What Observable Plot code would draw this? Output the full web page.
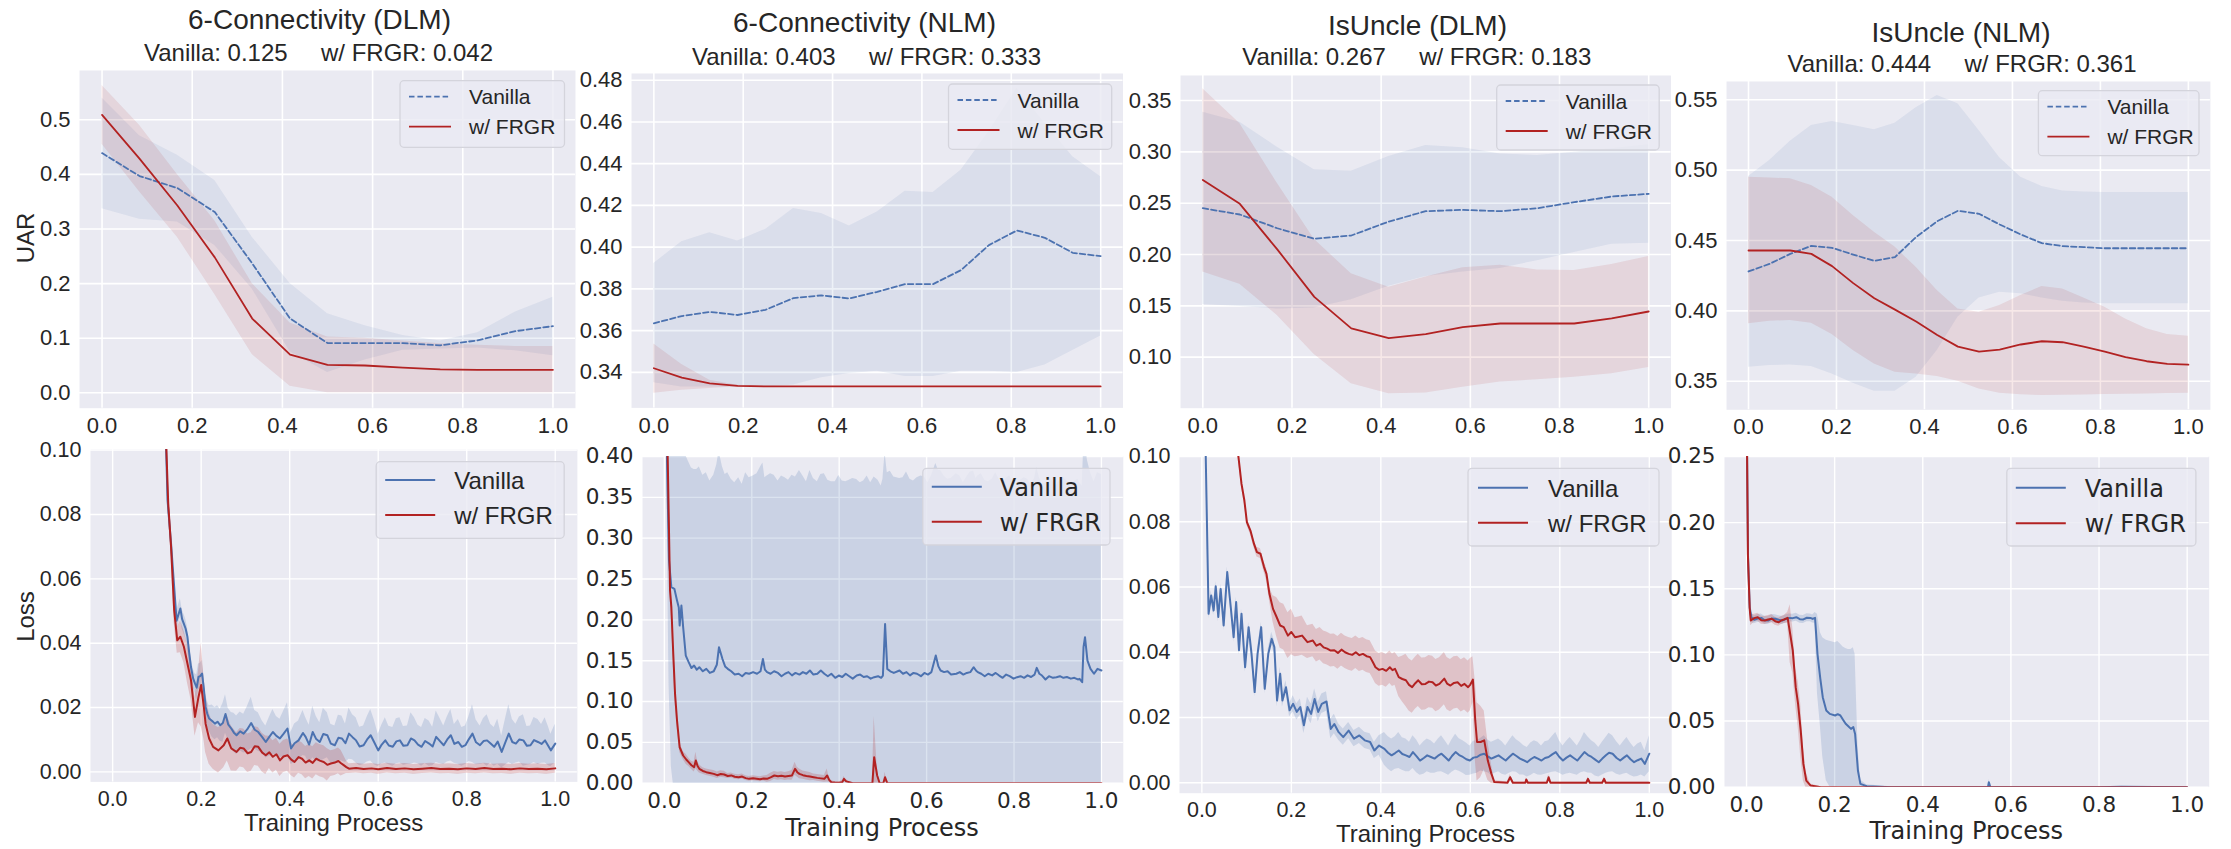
<!DOCTYPE html>
<html><head><meta charset="utf-8">
<script src="https://cdn.jsdelivr.net/npm/d3@7"></script>
<script src="https://cdn.jsdelivr.net/npm/@observablehq/plot@0.6"></script>
<style>
html,body{margin:0;padding:0;background:#fff;}
#root{position:relative;width:2231px;height:849px;overflow:hidden;background:#fff;}
#overlay{position:absolute;left:0;top:0;}
#overlay text{white-space:pre;}
</style></head><body><div id="root"></div>
<script>
// ---------------- text ----------------
const titles = ["6-Connectivity (DLM)", "6-Connectivity (NLM)", "IsUncle (DLM)", "IsUncle (NLM)"];
const subtitles = ["Vanilla: 0.125     w/ FRGR: 0.042", "Vanilla: 0.403     w/ FRGR: 0.333",
                   "Vanilla: 0.267     w/ FRGR: 0.183", "Vanilla: 0.444     w/ FRGR: 0.361"];
const seriesNames = ["Vanilla", "w/ FRGR"];
const xTicks = [0, 0.2, 0.4, 0.6, 0.8, 1.0];

// ---------------- top row: UAR ----------------
// 6-Connectivity (DLM)
const c6dX = [0, 0.083, 0.167, 0.25, 0.333, 0.417, 0.5, 0.583, 0.667, 0.75, 0.833, 0.917, 1];
const c6dVan   = [0.439, 0.397, 0.375, 0.331, 0.237, 0.136, 0.091, 0.091, 0.091, 0.087, 0.096, 0.113, 0.122];
const c6dVanLo = [0.337, 0.318, 0.313, 0.270, 0.190, 0.075, 0.037, 0.060, 0.078, 0.080, 0.082, 0.077, 0.068];
const c6dVanHi = [0.540, 0.471, 0.435, 0.389, 0.285, 0.200, 0.145, 0.123, 0.105, 0.095, 0.110, 0.148, 0.175];
const c6dFr    = [0.509, 0.429, 0.343, 0.248, 0.136, 0.070, 0.051, 0.050, 0.046, 0.043, 0.042, 0.042, 0.042];
const c6dFrLo  = [0.455, 0.368, 0.285, 0.180, 0.070, 0.012, 0.000, 0.000, 0.000, 0.000, 0.000, 0.000, 0.000];
const c6dFrHi  = [0.563, 0.490, 0.400, 0.315, 0.200, 0.128, 0.102, 0.100, 0.095, 0.090, 0.087, 0.085, 0.085];
const c6dYTicks = [0, 0.1, 0.2, 0.3, 0.4, 0.5];

// 6-Connectivity (NLM)
const c6nX = [0, 0.0625, 0.125, 0.1875, 0.25, 0.3125, 0.375, 0.4375, 0.5, 0.5625, 0.625, 0.6875, 0.75, 0.8125, 0.875, 0.9375, 1];
const c6nVan   = [0.3635, 0.367, 0.369, 0.3675, 0.370, 0.3756, 0.3769, 0.3754, 0.3786, 0.3823, 0.3823, 0.389, 0.401, 0.408, 0.4045, 0.3973, 0.3957];
const c6nVanLo = [0.3350, 0.3330, 0.3330, 0.3330, 0.3330, 0.3340, 0.3375, 0.3395, 0.3405, 0.3380, 0.3380, 0.3405, 0.3405, 0.3400, 0.3435, 0.3505, 0.3575];
const c6nVanHi = [0.3922, 0.4026, 0.4069, 0.4029, 0.4085, 0.4185, 0.4161, 0.4101, 0.4169, 0.4268, 0.4262, 0.4369, 0.4553, 0.4760, 0.4592, 0.4433, 0.4337];
const c6nFr    = [0.3420, 0.3375, 0.3347, 0.3335, 0.3333, 0.3333, 0.3333, 0.3333, 0.3333, 0.3333, 0.3333, 0.3333, 0.3333, 0.3333, 0.3333, 0.3333, 0.3333];
const c6nFrLo  = [0.3300, 0.3315, 0.3323, 0.3331, 0.3333, 0.3333, 0.3333, 0.3333, 0.3333, 0.3333, 0.3333, 0.3333, 0.3333, 0.3333, 0.3333, 0.3333, 0.3333];
const c6nFrHi  = [0.3536, 0.3438, 0.3363, 0.3339, 0.3333, 0.3333, 0.3333, 0.3333, 0.3333, 0.3333, 0.3333, 0.3333, 0.3333, 0.3333, 0.3333, 0.3333, 0.3333];
const c6nYTicks = [0.34, 0.36, 0.38, 0.40, 0.42, 0.44, 0.46, 0.48];

// IsUncle (DLM)
const iudX = [0, 0.083, 0.167, 0.25, 0.333, 0.417, 0.5, 0.583, 0.667, 0.75, 0.833, 0.917, 1];
const iudVan   = [0.2451, 0.2390, 0.2256, 0.2153, 0.2185, 0.2321, 0.2422, 0.2435, 0.2422, 0.2451, 0.2510, 0.2565, 0.2591];
const iudVanLo = [0.1513, 0.1494, 0.1470, 0.1480, 0.1560, 0.1690, 0.1785, 0.1830, 0.1865, 0.1940, 0.2020, 0.2100, 0.2110];
const iudVanHi = [0.3386, 0.3289, 0.3045, 0.2825, 0.2812, 0.2955, 0.3062, 0.3039, 0.2980, 0.2964, 0.2997, 0.3030, 0.3070];
const iudFr    = [0.2727, 0.2494, 0.2050, 0.1587, 0.1280, 0.1185, 0.1224, 0.1292, 0.1328, 0.1328, 0.1328, 0.1377, 0.1445];
const iudFrLo  = [0.1830, 0.1710, 0.1406, 0.1026, 0.0740, 0.0643, 0.0650, 0.0708, 0.0757, 0.0780, 0.0805, 0.0838, 0.0900];
const iudFrHi  = [0.3614, 0.3276, 0.2694, 0.2148, 0.1812, 0.1682, 0.1780, 0.1870, 0.1896, 0.1850, 0.1845, 0.1903, 0.1981];
const iudYTicks = [0.10, 0.15, 0.20, 0.25, 0.30, 0.35];

// IsUncle (NLM)
const iunX = [0, 0.048, 0.095, 0.143, 0.190, 0.238, 0.286, 0.333, 0.381, 0.429, 0.476, 0.524, 0.571, 0.619, 0.667, 0.714, 0.762, 0.810, 0.857, 0.905, 0.952, 1];
const iunVan   = [0.4280, 0.4334, 0.4405, 0.4462, 0.4448, 0.4400, 0.4355, 0.4382, 0.4524, 0.4637, 0.4711, 0.4690, 0.4614, 0.4543, 0.4481, 0.4460, 0.4453, 0.4445, 0.4445, 0.4445, 0.4445, 0.4445];
const iunVanLo = [0.3600, 0.3611, 0.3616, 0.3604, 0.3552, 0.3486, 0.3429, 0.3429, 0.3528, 0.3718, 0.3955, 0.4092, 0.4133, 0.4121, 0.4092, 0.4069, 0.4055, 0.4050, 0.4050, 0.4050, 0.4050, 0.4050];
const iunVanHi = [0.4955, 0.5069, 0.5206, 0.5318, 0.5346, 0.5318, 0.5287, 0.5334, 0.5443, 0.5531, 0.5472, 0.5282, 0.5088, 0.4950, 0.4884, 0.4851, 0.4844, 0.4841, 0.4841, 0.4841, 0.4841, 0.4841];
const iunFr    = [0.4429, 0.4429, 0.4429, 0.4405, 0.4318, 0.4197, 0.4090, 0.4009, 0.3924, 0.3829, 0.3746, 0.3711, 0.3725, 0.3761, 0.3784, 0.3777, 0.3746, 0.3711, 0.3671, 0.3642, 0.3623, 0.3618];
const iunFrLo  = [0.3908, 0.3927, 0.3931, 0.3912, 0.3832, 0.3718, 0.3623, 0.3564, 0.3552, 0.3533, 0.3500, 0.3445, 0.3415, 0.3403, 0.3398, 0.3400, 0.3402, 0.3405, 0.3408, 0.3410, 0.3413, 0.3415];
const iunFrHi  = [0.4950, 0.4945, 0.4938, 0.4891, 0.4808, 0.4678, 0.4559, 0.4453, 0.4310, 0.4145, 0.4014, 0.3991, 0.4038, 0.4109, 0.4173, 0.4156, 0.4092, 0.4026, 0.3943, 0.3872, 0.3832, 0.3820];
const iunYTicks = [0.35, 0.40, 0.45, 0.50, 0.55];

// ---------------- bottom row: Loss, records [x, mean, sd] ----------------
const lossYTicks01 = [0, 0.02, 0.04, 0.06, 0.08, 0.10];
const lossYTicks04 = [0, 0.05, 0.10, 0.15, 0.20, 0.25, 0.30, 0.35, 0.40];
const lossYTicks025 = [0, 0.05, 0.10, 0.15, 0.20, 0.25];

const c6dLossVan = [[0.119,0.110,0.001],[0.124,0.0845,0.002],[0.132,0.071,0.002],[0.139,0.0575,0.003],[0.1445,0.047,0.003],[0.149,0.049,0.003],[0.153,0.0508,0.003],[0.157,0.0475,0.003],[0.161,0.046,0.003],[0.165,0.0445,0.003],[0.169,0.042,0.003],[0.173,0.037,0.003],[0.177,0.0326,0.003],[0.182,0.029,0.003],[0.186,0.0275,0.003],[0.19,0.0262,0.004],[0.194,0.0295,0.004],[0.198,0.0298,0.004],[0.202,0.0306,0.004],[0.206,0.026,0.004],[0.21,0.0202,0.004],[0.214,0.018,0.004],[0.218,0.0166,0.004],[0.225,0.0158,0.005],[0.231,0.015,0.005],[0.237,0.0156,0.005],[0.243,0.0145,0.005],[0.249,0.0152,0.006],[0.255,0.018,0.006],[0.261,0.0148,0.005],[0.268,0.0135,0.005],[0.274,0.0122,0.006],[0.28,0.0114,0.006],[0.288,0.0126,0.006],[0.296,0.0119,0.006],[0.304,0.0132,0.007],[0.313,0.0152,0.008],[0.321,0.0131,0.006],[0.329,0.0124,0.006],[0.338,0.0108,0.005],[0.346,0.0093,0.005],[0.354,0.0109,0.006],[0.362,0.0124,0.007],[0.37,0.0112,0.006],[0.378,0.0104,0.006],[0.386,0.0118,0.007],[0.395,0.0135,0.008],[0.403,0.0073,0.005],[0.411,0.0089,0.006],[0.42,0.0098,0.006],[0.43,0.0121,0.007],[0.436,0.0109,0.006],[0.444,0.0085,0.006],[0.452,0.0124,0.008],[0.46,0.0102,0.007],[0.468,0.0093,0.006],[0.476,0.0118,0.008],[0.485,0.0114,0.007],[0.493,0.0088,0.006],[0.502,0.0083,0.006],[0.51,0.0106,0.007],[0.518,0.0104,0.007],[0.526,0.0089,0.006],[0.534,0.0119,0.008],[0.542,0.0108,0.007],[0.55,0.0098,0.007],[0.558,0.0079,0.006],[0.567,0.0083,0.006],[0.575,0.0101,0.007],[0.583,0.0114,0.008],[0.591,0.0092,0.007],[0.6,0.0067,0.005],[0.608,0.0085,0.006],[0.616,0.0098,0.007],[0.624,0.0082,0.006],[0.633,0.0078,0.006],[0.641,0.0095,0.007],[0.649,0.0098,0.007],[0.657,0.0081,0.006],[0.666,0.0083,0.006],[0.674,0.0104,0.008],[0.682,0.0098,0.007],[0.69,0.0085,0.006],[0.698,0.0078,0.006],[0.706,0.0096,0.007],[0.715,0.0088,0.007],[0.723,0.0079,0.006],[0.731,0.0109,0.008],[0.74,0.0095,0.007],[0.748,0.0083,0.006],[0.756,0.0101,0.007],[0.764,0.0114,0.008],[0.772,0.0087,0.006],[0.781,0.0093,0.007],[0.789,0.0078,0.006],[0.797,0.0083,0.006],[0.805,0.0102,0.007],[0.813,0.0119,0.009],[0.821,0.0092,0.007],[0.83,0.0083,0.006],[0.838,0.0096,0.007],[0.846,0.0098,0.008],[0.854,0.0088,0.006],[0.862,0.0078,0.006],[0.87,0.0094,0.007],[0.879,0.0062,0.005],[0.887,0.0091,0.007],[0.895,0.0119,0.009],[0.903,0.0093,0.007],[0.911,0.0088,0.006],[0.919,0.0101,0.007],[0.928,0.0098,0.008],[0.936,0.0081,0.006],[0.944,0.0083,0.006],[0.952,0.0099,0.007],[0.961,0.0093,0.007],[0.969,0.0087,0.006],[0.977,0.0098,0.007],[0.985,0.0079,0.006],[0.99,0.0067,0.005],[1.0,0.0088,0.006]];

const c6dLossFr = [[0.119,0.110,0.002],[0.1256,0.0834,0.003],[0.132,0.070,0.003],[0.139,0.0503,0.004],[0.146,0.0409,0.004],[0.153,0.042,0.005],[0.161,0.0389,0.005],[0.169,0.0337,0.006],[0.177,0.0285,0.006],[0.186,0.0171,0.006],[0.194,0.0233,0.008],[0.2,0.027,0.013],[0.206,0.0202,0.010],[0.21,0.015,0.009],[0.218,0.0104,0.008],[0.227,0.0078,0.007],[0.239,0.0067,0.007],[0.251,0.0083,0.007],[0.259,0.0104,0.007],[0.268,0.0073,0.007],[0.28,0.0062,0.006],[0.288,0.0075,0.006],[0.296,0.0073,0.006],[0.305,0.0058,0.006],[0.313,0.0062,0.006],[0.321,0.0080,0.006],[0.329,0.0078,0.006],[0.338,0.0060,0.006],[0.346,0.0052,0.006],[0.354,0.0061,0.005],[0.362,0.0047,0.005],[0.37,0.0055,0.005],[0.378,0.0036,0.005],[0.386,0.0048,0.005],[0.395,0.0052,0.005],[0.403,0.0039,0.005],[0.411,0.0031,0.005],[0.42,0.0046,0.005],[0.428,0.0041,0.005],[0.436,0.0029,0.005],[0.444,0.0036,0.005],[0.452,0.0028,0.005],[0.46,0.0041,0.005],[0.468,0.0035,0.005],[0.477,0.0031,0.005],[0.485,0.0022,0.005],[0.493,0.0026,0.004],[0.502,0.0029,0.004],[0.51,0.0034,0.004],[0.516,0.0027,0.004],[0.522,0.0021,0.003],[0.528,0.0015,0.002],[0.534,0.001,0.0015],[0.55,0.0012,0.0015],[0.567,0.0009,0.0015],[0.585,0.0011,0.0015],[0.6,0.0008,0.0015],[0.62,0.0012,0.0015],[0.64,0.0009,0.0015],[0.66,0.0011,0.0015],[0.68,0.0008,0.0015],[0.7,0.001,0.0015],[0.72,0.0012,0.0015],[0.74,0.0009,0.0015],[0.76,0.001,0.0015],[0.78,0.0008,0.0015],[0.8,0.0011,0.0015],[0.82,0.0009,0.0015],[0.84,0.0012,0.0015],[0.86,0.0009,0.0015],[0.88,0.001,0.0015],[0.9,0.0008,0.0015],[0.92,0.0011,0.0015],[0.94,0.0009,0.0015],[0.96,0.001,0.0015],[0.98,0.0008,0.0015],[1.0,0.0011,0.0015]];

const c6nLossVan = [[0.004,0.45,0.01],[0.0106,0.2727,0.15],[0.016,0.24,0.22],[0.0229,0.238,0.25],[0.029,0.2237,0.25],[0.033,0.215,0.25],[0.035,0.193,0.25],[0.039,0.2176,0.25],[0.043,0.191,0.25],[0.049,0.1563,0.245],[0.0556,0.1482,0.245],[0.062,0.141,0.245],[0.068,0.144,0.24],[0.074,0.139,0.245],[0.08,0.142,0.245],[0.088,0.137,0.24],[0.096,0.14,0.24],[0.104,0.135,0.235],[0.113,0.137,0.24],[0.12,0.145,0.245],[0.125,0.1665,0.24],[0.133,0.152,0.235],[0.139,0.143,0.235],[0.145,0.14,0.24],[0.153,0.137,0.235],[0.161,0.133,0.235],[0.17,0.134,0.24],[0.178,0.131,0.235],[0.186,0.135,0.245],[0.194,0.134,0.24],[0.203,0.136,0.24],[0.212,0.134,0.245],[0.22,0.137,0.25],[0.2255,0.152,0.24],[0.23,0.139,0.235],[0.235,0.136,0.24],[0.243,0.134,0.245],[0.251,0.137,0.24],[0.26,0.135,0.235],[0.268,0.131,0.245],[0.276,0.134,0.24],[0.284,0.136,0.235],[0.292,0.132,0.245],[0.3,0.135,0.24],[0.309,0.133,0.25],[0.317,0.136,0.24],[0.325,0.134,0.235],[0.333,0.138,0.245],[0.341,0.133,0.24],[0.35,0.134,0.235],[0.358,0.138,0.24],[0.366,0.134,0.245],[0.374,0.131,0.24],[0.382,0.134,0.235],[0.391,0.129,0.24],[0.399,0.1318,0.245],[0.407,0.13,0.24],[0.415,0.134,0.235],[0.423,0.131,0.24],[0.431,0.128,0.245],[0.44,0.1318,0.24],[0.448,0.133,0.235],[0.456,0.13,0.24],[0.464,0.131,0.245],[0.472,0.128,0.24],[0.48,0.1298,0.245],[0.489,0.131,0.24],[0.496,0.129,0.235],[0.5,0.1318,0.24],[0.505,0.195,0.21],[0.51,0.14,0.24],[0.517,0.137,0.245],[0.525,0.135,0.24],[0.538,0.138,0.235],[0.546,0.134,0.24],[0.554,0.136,0.245],[0.562,0.132,0.24],[0.57,0.135,0.235],[0.578,0.134,0.24],[0.587,0.131,0.245],[0.595,0.135,0.24],[0.603,0.133,0.235],[0.611,0.136,0.24],[0.621,0.1563,0.235],[0.627,0.143,0.24],[0.632,0.138,0.245],[0.64,0.136,0.24],[0.648,0.137,0.235],[0.656,0.133,0.24],[0.668,0.134,0.245],[0.676,0.136,0.24],[0.684,0.133,0.235],[0.692,0.135,0.24],[0.7,0.136,0.245],[0.7075,0.142,0.24],[0.713,0.138,0.235],[0.717,0.136,0.24],[0.725,0.134,0.245],[0.733,0.131,0.24],[0.741,0.134,0.235],[0.75,0.132,0.24],[0.758,0.135,0.245],[0.766,0.1318,0.24],[0.774,0.129,0.235],[0.782,0.133,0.24],[0.79,0.131,0.245],[0.799,0.128,0.24],[0.807,0.1298,0.235],[0.815,0.131,0.24],[0.823,0.129,0.245],[0.831,0.132,0.24],[0.839,0.13,0.235],[0.847,0.133,0.24],[0.852,0.1412,0.245],[0.858,0.134,0.24],[0.864,0.1318,0.235],[0.872,0.127,0.24],[0.88,0.131,0.245],[0.889,0.129,0.24],[0.897,0.1298,0.235],[0.905,0.131,0.24],[0.913,0.129,0.245],[0.921,0.13,0.24],[0.93,0.128,0.235],[0.938,0.129,0.24],[0.946,0.127,0.245],[0.95,0.1278,0.24],[0.956,0.1237,0.24],[0.959,0.1665,0.24],[0.9624,0.1788,0.24],[0.968,0.15,0.245],[0.975,0.14,0.24],[0.983,0.134,0.235],[0.991,0.14,0.24],[1.0,0.138,0.24]];

const c6nLossFr = [[0.006,0.45,0.01],[0.013,0.236,0.008],[0.016,0.2155,0.012],[0.0204,0.158,0.012],[0.0245,0.109,0.01],[0.029,0.0767,0.008],[0.035,0.044,0.006],[0.043,0.0339,0.005],[0.05,0.029,0.006],[0.0556,0.0257,0.005],[0.062,0.022,0.005],[0.068,0.0196,0.006],[0.072,0.0278,0.01],[0.076,0.021,0.006],[0.08,0.0176,0.005],[0.088,0.015,0.004],[0.096,0.0135,0.004],[0.104,0.0125,0.004],[0.113,0.0114,0.004],[0.121,0.0098,0.004],[0.129,0.0112,0.004],[0.137,0.0106,0.004],[0.145,0.0088,0.003],[0.153,0.0095,0.003],[0.161,0.0079,0.003],[0.17,0.0073,0.003],[0.178,0.0081,0.003],[0.186,0.0062,0.003],[0.194,0.0053,0.003],[0.203,0.0061,0.003],[0.211,0.0055,0.003],[0.219,0.0049,0.003],[0.227,0.0058,0.003],[0.235,0.0053,0.004],[0.243,0.0072,0.005],[0.2516,0.0094,0.005],[0.26,0.0085,0.005],[0.268,0.0091,0.005],[0.276,0.0082,0.005],[0.284,0.0089,0.005],[0.292,0.0095,0.006],[0.299,0.0176,0.008],[0.304,0.0135,0.006],[0.309,0.0114,0.006],[0.317,0.0098,0.005],[0.325,0.0089,0.005],[0.333,0.0081,0.005],[0.3415,0.0073,0.004],[0.35,0.0065,0.004],[0.358,0.0059,0.004],[0.366,0.0053,0.004],[0.3725,0.0094,0.008],[0.377,0.004,0.003],[0.382,0.0012,0.002],[0.39,0.0008,0.001],[0.4,0.0006,0.001],[0.407,0.0012,0.002],[0.411,0.0053,0.003],[0.416,0.0022,0.002],[0.423,0.0012,0.001],[0.431,0,0],[0.476,0,0],[0.48,0.0318,0.05],[0.4869,0.0094,0.01],[0.4926,0,0],[0.5008,0,0],[0.505,0.0073,0.006],[0.51,0,0],[1.0,0,0]];

const iudLossVan = [[0.008,0.105,0.002],[0.015,0.0518,0.0015],[0.0208,0.0574,0.0015],[0.0263,0.0528,0.0015],[0.031,0.0602,0.0015],[0.0367,0.0508,0.0015],[0.042,0.0594,0.0015],[0.0487,0.0482,0.0015],[0.0567,0.0646,0.0015],[0.0646,0.0538,0.0015],[0.071,0.0446,0.0015],[0.0766,0.0554,0.0015],[0.083,0.0406,0.0015],[0.0886,0.0518,0.0015],[0.0966,0.0354,0.0015],[0.1045,0.0477,0.0015],[0.111,0.0395,0.0015],[0.118,0.0278,0.0015],[0.1245,0.0395,0.0015],[0.1325,0.0477,0.0015],[0.1405,0.0288,0.0015],[0.1484,0.0395,0.0015],[0.156,0.0441,0.002],[0.162,0.0416,0.002],[0.168,0.0252,0.002],[0.175,0.0334,0.002],[0.18,0.0252,0.002],[0.188,0.0293,0.002],[0.196,0.0222,0.002],[0.204,0.0242,0.0025],[0.212,0.0217,0.0025],[0.22,0.0232,0.0025],[0.228,0.0176,0.0025],[0.236,0.0232,0.003],[0.244,0.0211,0.003],[0.252,0.0257,0.003],[0.26,0.0217,0.003],[0.268,0.0242,0.003],[0.2785,0.0249,0.003],[0.288,0.0165,0.003],[0.296,0.018,0.003],[0.3057,0.0155,0.0025],[0.316,0.014,0.0025],[0.328,0.016,0.0025],[0.34,0.0135,0.0025],[0.352,0.0145,0.0025],[0.364,0.013,0.0025],[0.376,0.0125,0.0025],[0.3855,0.0099,0.0025],[0.396,0.0114,0.003],[0.408,0.0104,0.005],[0.416,0.0092,0.005],[0.424,0.0084,0.005],[0.432,0.0091,0.005],[0.44,0.0099,0.0055],[0.448,0.0088,0.005],[0.456,0.0084,0.005],[0.464,0.0079,0.0045],[0.4717,0.0094,0.005],[0.48,0.0081,0.005],[0.4876,0.0068,0.0045],[0.496,0.0076,0.005],[0.5036,0.0084,0.005],[0.512,0.0079,0.005],[0.52,0.0074,0.0045],[0.528,0.0083,0.005],[0.5355,0.0089,0.0055],[0.544,0.0078,0.005],[0.5515,0.0068,0.0045],[0.559,0.0082,0.005],[0.567,0.0094,0.0055],[0.575,0.0085,0.005],[0.5834,0.0079,0.005],[0.591,0.0072,0.005],[0.599,0.0068,0.0045],[0.607,0.0077,0.005],[0.615,0.0079,0.005],[0.623,0.0086,0.005],[0.631,0.0089,0.0055],[0.639,0.0081,0.005],[0.647,0.0074,0.005],[0.655,0.0079,0.005],[0.663,0.0084,0.005],[0.671,0.0076,0.005],[0.679,0.0068,0.0045],[0.687,0.0079,0.005],[0.695,0.0089,0.0055],[0.703,0.0082,0.005],[0.711,0.0074,0.005],[0.719,0.0069,0.0045],[0.727,0.0063,0.0045],[0.735,0.0072,0.005],[0.743,0.0079,0.005],[0.751,0.0074,0.005],[0.759,0.0068,0.0045],[0.767,0.0076,0.005],[0.775,0.0079,0.005],[0.783,0.0087,0.0055],[0.791,0.0094,0.006],[0.799,0.0079,0.005],[0.807,0.0068,0.0045],[0.815,0.0077,0.005],[0.823,0.0084,0.0055],[0.831,0.0076,0.005],[0.839,0.0068,0.0045],[0.847,0.0081,0.005],[0.855,0.0094,0.006],[0.863,0.0085,0.0055],[0.871,0.0079,0.005],[0.879,0.0071,0.005],[0.887,0.0063,0.0045],[0.895,0.0074,0.005],[0.903,0.0084,0.0055],[0.91,0.0092,0.006],[0.918,0.0089,0.0055],[0.927,0.0076,0.005],[0.935,0.0068,0.0045],[0.943,0.0077,0.005],[0.95,0.0084,0.0055],[0.958,0.0072,0.005],[0.966,0.0063,0.0045],[0.974,0.0069,0.005],[0.982,0.0074,0.005],[0.99,0.0058,0.004],[1.0,0.0089,0.0055]];

const iudLossFr = [[0.08,0.102,0.001],[0.0886,0.0916,0.001],[0.095,0.0865,0.001],[0.1006,0.0799,0.001],[0.1085,0.0773,0.0012],[0.1165,0.0732,0.0012],[0.123,0.0707,0.0015],[0.131,0.0702,0.0015],[0.139,0.0661,0.0015],[0.1444,0.064,0.002],[0.151,0.0579,0.002],[0.159,0.0533,0.004],[0.167,0.0508,0.006],[0.175,0.0482,0.007],[0.183,0.0477,0.007],[0.1923,0.0451,0.007],[0.2,0.0462,0.007],[0.2083,0.0446,0.006],[0.216,0.0448,0.006],[0.224,0.0451,0.006],[0.236,0.0431,0.005],[0.248,0.0436,0.005],[0.256,0.042,0.005],[0.264,0.0426,0.005],[0.272,0.0415,0.005],[0.28,0.0411,0.005],[0.288,0.0405,0.005],[0.296,0.0406,0.005],[0.304,0.0398,0.005],[0.312,0.0408,0.005],[0.32,0.04,0.005],[0.328,0.0395,0.005],[0.336,0.0392,0.005],[0.344,0.04,0.005],[0.352,0.0391,0.005],[0.36,0.0395,0.005],[0.368,0.0388,0.005],[0.376,0.0385,0.005],[0.382,0.037,0.005],[0.388,0.0354,0.005],[0.396,0.0346,0.005],[0.4038,0.0349,0.005],[0.412,0.0343,0.005],[0.42,0.0354,0.005],[0.426,0.0345,0.005],[0.4317,0.0349,0.005],[0.44,0.0324,0.006],[0.448,0.0318,0.007],[0.456,0.0314,0.008],[0.463,0.030,0.008],[0.47,0.0293,0.008],[0.477,0.0305,0.008],[0.4836,0.0314,0.008],[0.4916,0.0302,0.008],[0.4996,0.0303,0.008],[0.5076,0.031,0.008],[0.5156,0.0308,0.008],[0.523,0.0298,0.008],[0.531,0.0303,0.008],[0.5419,0.0319,0.008],[0.548,0.0304,0.008],[0.5555,0.0298,0.008],[0.5635,0.0306,0.008],[0.5715,0.0308,0.008],[0.5795,0.0297,0.008],[0.587,0.0303,0.008],[0.595,0.0293,0.008],[0.6,0.0301,0.008],[0.6057,0.0316,0.007],[0.611,0.0191,0.012],[0.615,0.0125,0.012],[0.623,0.0125,0.011],[0.631,0.013,0.009],[0.639,0.0068,0.006],[0.647,0.0028,0.003],[0.6536,0.0002,0.0005],[0.683,0,0.0002],[0.689,0.0017,0.0008],[0.695,0,0.0002],[0.723,0,0.0002],[0.725,0.001,0.0005],[0.7287,0,0.0002],[0.771,0,0.0002],[0.775,0.0017,0.0008],[0.779,0,0.0002],[0.859,0,0.0002],[0.863,0.0012,0.0006],[0.867,0,0.0002],[0.8946,0,0.0002],[0.899,0.0012,0.0006],[0.9026,0,0.0002],[1.0,0,0.0002]];

const iunLossVan = [[0.0,0.30,0.005],[0.0032,0.1764,0.004],[0.0072,0.136,0.004],[0.011,0.1285,0.004],[0.0175,0.1265,0.003],[0.025,0.1275,0.003],[0.0335,0.128,0.003],[0.041,0.1262,0.003],[0.049,0.126,0.003],[0.057,0.1275,0.003],[0.065,0.1273,0.003],[0.073,0.1266,0.003],[0.081,0.126,0.003],[0.089,0.1272,0.003],[0.097,0.128,0.003],[0.105,0.1278,0.003],[0.113,0.1285,0.003],[0.121,0.127,0.003],[0.129,0.1268,0.003],[0.137,0.1281,0.003],[0.145,0.128,0.003],[0.15,0.1272,0.003],[0.1555,0.128,0.004],[0.161,0.1008,0.03],[0.1675,0.0819,0.035],[0.173,0.068,0.045],[0.181,0.058,0.053],[0.189,0.0554,0.055],[0.201,0.0542,0.055],[0.207,0.0552,0.055],[0.213,0.0542,0.054],[0.219,0.051,0.055],[0.225,0.0479,0.057],[0.231,0.046,0.058],[0.237,0.0441,0.06],[0.2424,0.0454,0.06],[0.2464,0.0403,0.06],[0.2528,0.0126,0.02],[0.2584,0.0025,0.003],[0.2727,0.0008,0.001],[0.3285,0,0.0003],[0.548,0,0.0003],[0.55,0.0038,0.002],[0.5534,0,0.0003],[0.8,0,0.0003],[0.85,0.0003,0.0003],[1.0,0,0.0003]];

const iunLossFr = [[0.0,0.30,0.005],[0.0032,0.175,0.004],[0.0072,0.135,0.004],[0.0096,0.126,0.004],[0.0175,0.1278,0.003],[0.0255,0.1285,0.003],[0.0335,0.1262,0.003],[0.0415,0.126,0.003],[0.049,0.1268,0.003],[0.0574,0.1273,0.003],[0.065,0.1255,0.003],[0.073,0.1247,0.003],[0.08,0.1262,0.003],[0.0853,0.1268,0.003],[0.0933,0.128,0.004],[0.099,0.116,0.022],[0.105,0.1033,0.017],[0.1116,0.0756,0.014],[0.117,0.063,0.017],[0.123,0.0428,0.02],[0.129,0.0176,0.013],[0.1356,0.005,0.006],[0.145,0.0013,0.0012],[0.169,0,0.0003],[1.0,0,0.0003]];

// ---------------- styling ----------------
const BLUE = "#4C72B0", RED = "#B22222", BG = "#EAEAF2", INK = "#262626";
const ARIAL = "'Liberation Sans', Arial, sans-serif", DEJAVU = "'DejaVu Sans', sans-serif";
const root = document.getElementById("root");

function rowsTop(xs, m, lo, hi) { return xs.map((x, i) => ({x, y: m[i], lo: lo[i], hi: hi[i]})); }
function rowsLoss(recs) { return recs.map(([x, m, s]) => ({x, y: m, lo: m - s, hi: m + s})); }

function addPlot(c) {
  const mL = 90, mR = 14, mT = 14, mB = 60;
  const fw = c.R - c.L, fh = c.B - c.T;
  const grid = {stroke: "white", strokeOpacity: 1, strokeWidth: c.gridW};
  const chart = Plot.plot({
    width: fw + mL + mR, height: fh + mT + mB,
    marginLeft: mL, marginRight: mR, marginTop: mT, marginBottom: mB,
    style: {background: "transparent", overflow: "visible", fontFamily: c.font, color: INK},
    x: {domain: [-0.05, 1.05]},
    y: {domain: c.yDomain},
    marks: [
      Plot.frame({fill: BG, stroke: "none"}),
      Plot.gridX(xTicks, grid),
      Plot.gridY(c.yTicks, grid),
      Plot.areaY(c.van, {x: "x", y1: "lo", y2: "hi", fill: BLUE, fillOpacity: c.bandOp, clip: true}),
      Plot.areaY(c.fr, {x: "x", y1: "lo", y2: "hi", fill: RED, fillOpacity: c.bandOp, clip: true}),
      Plot.line(c.van, {x: "x", y: "y", stroke: BLUE, strokeWidth: c.lineW, strokeDasharray: c.dash, clip: true}),
      Plot.line(c.fr, {x: "x", y: "y", stroke: RED, strokeWidth: c.lineW, clip: true}),
      Plot.axisX({ticks: xTicks, tickSize: 0, tickPadding: c.xPad, tickFormat: d => d.toFixed(1), fontSize: c.fs, label: null}),
      Plot.axisY({ticks: c.yTicks, tickSize: 0, tickPadding: 9, tickFormat: d => d.toFixed(c.yDec), fontSize: c.fs, label: null})
    ]
  });
  chart.style.position = "absolute";
  chart.style.left = (c.L - mL) + "px";
  chart.style.top = (c.T - mT) + "px";
  root.appendChild(chart);
}

const topCfg = {bandOp: 0.1, lineW: 1.8, dash: "5.5,2.9", fs: 22, font: ARIAL, gridW: 1.6, xPad: 9};
addPlot({...topCfg, L: 79, T: 70, R: 575, B: 407.7, yDomain: [-0.0282, 0.5903], yTicks: c6dYTicks, yDec: 1,
  van: rowsTop(c6dX, c6dVan, c6dVanLo, c6dVanHi), fr: rowsTop(c6dX, c6dFr, c6dFrLo, c6dFrHi)});
addPlot({...topCfg, L: 630.5, T: 73.3, R: 1122, B: 407.7, yDomain: [0.323, 0.4832], yTicks: c6nYTicks, yDec: 2,
  van: rowsTop(c6nX, c6nVan, c6nVanLo, c6nVanHi), fr: rowsTop(c6nX, c6nFr, c6nFrLo, c6nFrHi)});
addPlot({...topCfg, L: 1179.5, T: 75, R: 1670, B: 407.7, yDomain: [0.0503, 0.3744], yTicks: iudYTicks, yDec: 2,
  van: rowsTop(iudX, iudVan, iudVanLo, iudVanHi), fr: rowsTop(iudX, iudFr, iudFrLo, iudFrHi)});
addPlot({...topCfg, L: 1725.5, T: 81, R: 2209.4, B: 409.3, yDomain: [0.3297, 0.563], yTicks: iunYTicks, yDec: 2,
  van: rowsTop(iunX, iunVan, iunVanLo, iunVanHi), fr: rowsTop(iunX, iunFr, iunFrLo, iunFrHi)});

const botCfg = {bandOp: 0.2, lineW: 2, dash: null, fs: 21.5, gridW: 1.4, yDec: 2};
addPlot({...botCfg, font: ARIAL, xPad: 9, L: 90.2, T: 449.3, R: 577.1, B: 781.7, yDomain: [-0.0031, 0.1002], yTicks: lossYTicks01,
  van: rowsLoss(c6dLossVan), fr: rowsLoss(c6dLossFr)});
addPlot({...botCfg, font: DEJAVU, xPad: 10, L: 641.7, T: 456, R: 1122.5, B: 782.7, yDomain: [0, 0.4], yTicks: lossYTicks04,
  van: rowsLoss(c6nLossVan), fr: rowsLoss(c6nLossFr)});
addPlot({...botCfg, font: ARIAL, xPad: 9, L: 1179.4, T: 456, R: 1671.6, B: 792.7, yDomain: [-0.0032, 0.1], yTicks: lossYTicks01,
  van: rowsLoss(iudLossVan), fr: rowsLoss(iudLossFr)});
addPlot({...botCfg, font: DEJAVU, xPad: 10, L: 1724, T: 456, R: 2208.7, B: 786.7, yDomain: [0, 0.25], yTicks: lossYTicks025,
  van: rowsLoss(iunLossVan), fr: rowsLoss(iunLossFr)});

// ---------------- overlay: titles, labels, legends ----------------
const ov = d3.select(root).append("svg").attr("id", "overlay").attr("width", 2231).attr("height", 849);
function txt(x, y, s, size, font, anchor = "middle", rot = 0) {
  ov.append("text").attr("transform", `translate(${x},${y}) rotate(${rot})`)
    .attr("text-anchor", anchor).attr("font-family", font).attr("font-size", size)
    .attr("fill", INK).text(s);
}
const titlePos = [[319.5, 28.5], [864.5, 32], [1417.5, 35], [1961, 41.7]];
const subPos = [[318.5, 61], [866.5, 64.5], [1416.7, 65], [1962, 71.7]];
titles.forEach((t, i) => txt(titlePos[i][0], titlePos[i][1], t, 28, ARIAL));
subtitles.forEach((t, i) => txt(subPos[i][0], subPos[i][1], t, 24, ARIAL));
txt(34, 238, "UAR", 24, ARIAL, "middle", -90);
txt(34, 616.5, "Loss", 24, ARIAL, "middle", -90);
txt(333.6, 831, "Training Process", 24, ARIAL);
txt(882, 835.5, "Training Process", 24, DEJAVU);
txt(1425.5, 842, "Training Process", 24, ARIAL);
txt(1966.3, 839, "Training Process", 24, DEJAVU);

function legend(b, o) {
  ov.append("rect").attr("x", b[0]).attr("y", b[1]).attr("width", b[2] - b[0]).attr("height", b[3] - b[1])
    .attr("rx", 4).attr("fill", BG).attr("fill-opacity", 0.8).attr("stroke", "#D4D4DC").attr("stroke-width", 1.3);
  const ys = [b[1] + o.y1, b[1] + o.y2];
  [BLUE, RED].forEach((col, i) => {
    const ln = ov.append("line").attr("x1", b[0] + o.s0).attr("x2", b[0] + o.s1).attr("y1", ys[i]).attr("y2", ys[i])
      .attr("stroke", col).attr("stroke-width", o.lw);
    if (i === 0 && o.dash) ln.attr("stroke-dasharray", o.dash);
    txt(b[0] + o.tx, ys[i] + o.base, seriesNames[i], o.size, o.font, "start");
  });
}
const lt = {y1: 16, y2: 46, s0: 9, s1: 51, tx: 69, base: 7.7, size: 21, font: ARIAL, lw: 1.8, dash: "5.5,2.9"};
legend([400, 80.7, 564.5, 147.3], lt);
legend([948.5, 84, 1111.7, 149.3], lt);
legend([1496.7, 85, 1659.2, 150], lt);
legend([2038.4, 90.7, 2199, 155.7], lt);
const lb = {y1: 18.4, y2: 53.4, s0: 9, s1: 59, tx: 78, base: 8.8, size: 24, lw: 2, dash: null};
legend([376.2, 461.7, 564.2, 538.3], {...lb, font: ARIAL});
legend([922.8, 468.3, 1110, 545], {...lb, font: DEJAVU, tx: 77});
legend([1468, 468.3, 1659, 546], {...lb, font: ARIAL, y1: 19.4, y2: 54.4, s0: 10, s1: 60, tx: 80});
legend([2006.8, 468.3, 2195.9, 546], {...lb, font: DEJAVU, y1: 19.4, y2: 55, tx: 78});
</script></body></html>
